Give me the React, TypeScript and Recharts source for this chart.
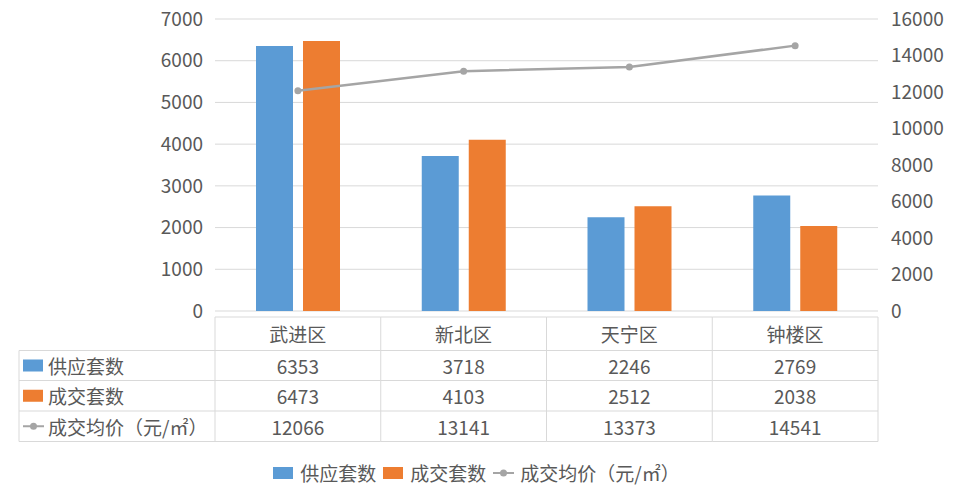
import React from "react"
import { ComposedChart, Bar, Line, XAxis, YAxis, CartesianGrid } from "recharts"

// categories and series
const categories = ["武进区", "新北区", "天宁区", "钟楼区"]
const supply = [6353, 3718, 2246, 2769]
const deals = [6473, 4103, 2512, 2038]
const avgPrice = [12066, 13141, 13373, 14541]

const leftTicks = [0, 1000, 2000, 3000, 4000, 5000, 6000, 7000]
const rightTicks = [0, 2000, 4000, 6000, 8000, 10000, 12000, 14000, 16000]

const BLUE = "#5B9BD5"
const ORANGE = "#ED7D31"
const GRAY = "#A5A5A5"
const TEXT = "#595959"
const BORDER = "#D9D9D9"
const FONT = '"Noto Sans CJK SC", "Noto Sans", sans-serif'

const data = categories.map((name, i) => ({
  name,
  supply: supply[i],
  deals: deals[i],
  price: avgPrice[i],
}))

const seriesRows = [
  { key: "supply", label: "供应套数", color: BLUE, kind: "bar", values: supply },
  { key: "deals", label: "成交套数", color: ORANGE, kind: "bar", values: deals },
  { key: "price", label: "成交均价（元/㎡）", color: GRAY, kind: "line", values: avgPrice },
]

// table layout
const PLOT_LEFT = 215
const PLOT_RIGHT = 878
const COL_W = (PLOT_RIGHT - PLOT_LEFT) / categories.length
const TABLE_TOP = 317
const ROW_LINES = [350.5, 380.5, 411, 441.5]
const LABEL_LEFT = 19

function Marker({ kind, color, x, y }: { kind: string; color: string; x: number; y: number }) {
  if (kind === "bar") return <rect x={x} y={y - 6} width={20} height={12} fill={color} />
  return (
    <g>
      <line x1={x} x2={x + 21} y1={y} y2={y} stroke={color} strokeWidth={2} />
      <circle cx={x + 10.5} cy={y} r={3.5} fill={color} />
    </g>
  )
}

function TableTick(props: any) {
  const { x, payload, index } = props
  const left = x - COL_W / 2
  const right = x + COL_W / 2
  return (
    <g fontFamily={FONT} fontSize={19} fill={TEXT}>
      {/* column borders */}
      <line x1={left} x2={right} y1={TABLE_TOP} y2={TABLE_TOP} stroke={BORDER} />
      {ROW_LINES.map((ly) => (
        <line key={ly} x1={left} x2={right} y1={ly} y2={ly} stroke={BORDER} />
      ))}
      <line x1={right} x2={right} y1={TABLE_TOP} y2={ROW_LINES[3]} stroke={BORDER} />
      {index === 0 && (
        <g>
          <line x1={left} x2={left} y1={TABLE_TOP} y2={ROW_LINES[3]} stroke={BORDER} />
          <line x1={LABEL_LEFT} x2={LABEL_LEFT} y1={ROW_LINES[0]} y2={ROW_LINES[3]} stroke={BORDER} />
          {ROW_LINES.map((ly) => (
            <line key={ly} x1={LABEL_LEFT} x2={left} y1={ly} y2={ly} stroke={BORDER} />
          ))}
          {seriesRows.map((r, ri) => {
            const cy = (ROW_LINES[ri] + ROW_LINES[ri + 1]) / 2
            return (
              <g key={r.key}>
                <Marker kind={r.kind} color={r.color} x={23} y={cy} />
                <text x={48} y={cy} dominantBaseline="central" fill={TEXT}>
                  {r.label}
                </text>
              </g>
            )
          })}
        </g>
      )}
      <text x={x} y={(TABLE_TOP + ROW_LINES[0]) / 2} textAnchor="middle" dominantBaseline="central" fill={TEXT}>
        {payload.value}
      </text>
      {seriesRows.map((r, ri) => (
        <text
          key={r.key}
          x={x}
          y={(ROW_LINES[ri] + ROW_LINES[ri + 1]) / 2}
          textAnchor="middle"
          dominantBaseline="central"
          fill={TEXT}
        >
          {r.values[index]}
        </text>
      ))}
    </g>
  )
}

export default function App() {
  const tickStyle = { fontSize: 19, fill: TEXT, fontFamily: FONT }
  return (
    <div style={{ position: "absolute", left: 0, top: 0, width: 960, height: 499, background: "#fff" }}>
      <ComposedChart
        width={960}
        height={499}
        data={data}
        margin={{ top: 19, right: 0, bottom: 158, left: 0 }}
        barSize={37}
        barGap={10}
      >
        <CartesianGrid yAxisId="left" vertical={false} stroke={BORDER} />
        <XAxis
          dataKey="name"
          height={30}
          axisLine={false}
          tickLine={false}
          interval={0}
          tick={(p: any) => <TableTick {...p} />}
        />
        <YAxis
          yAxisId="left"
          width={215}
          domain={[0, 7000]}
          ticks={leftTicks}
          axisLine={false}
          tickLine={false}
          tickSize={0}
          tickMargin={12}
          tick={tickStyle}
        />
        <YAxis
          yAxisId="right"
          orientation="right"
          width={82}
          domain={[0, 16000]}
          ticks={rightTicks}
          axisLine={false}
          tickLine={false}
          tickSize={0}
          tickMargin={13}
          tick={tickStyle}
        />
        <Bar yAxisId="left" dataKey="supply" fill={BLUE} isAnimationActive={false} />
        <Bar yAxisId="left" dataKey="deals" fill={ORANGE} isAnimationActive={false} />
        <Line
          yAxisId="right"
          dataKey="price"
          stroke={GRAY}
          strokeWidth={2.5}
          dot={{ r: 3.5, fill: GRAY, stroke: GRAY, strokeWidth: 0 }}
          isAnimationActive={false}
        />
      </ComposedChart>
      <div
        style={{
          position: "absolute",
          top: 459,
          left: 0,
          width: 953,
          display: "flex",
          justifyContent: "center",
          alignItems: "center",
          fontFamily: FONT,
          fontSize: 19,
          color: TEXT,
          gap: 7,
        }}
      >
        {seriesRows.map((r) => (
          <div key={r.key} style={{ display: "flex", alignItems: "center", gap: 6 }}>
            <svg width={21} height={26}>
              <Marker kind={r.kind} color={r.color} x={0} y={13} />
            </svg>
            <span>{r.label}</span>
          </div>
        ))}
      </div>
    </div>
  )
}
